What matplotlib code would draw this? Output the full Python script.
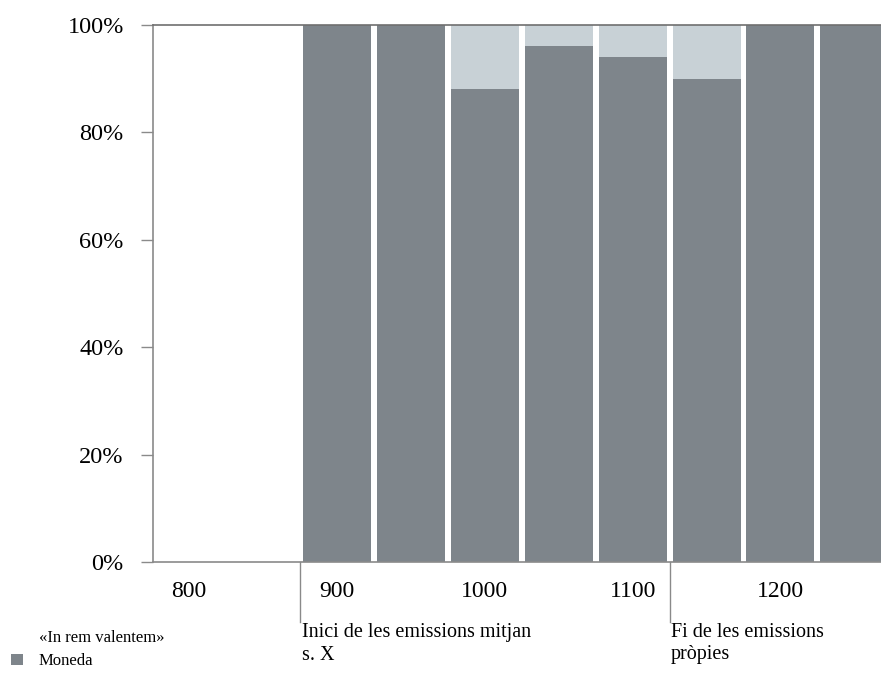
import matplotlib
matplotlib.use("Agg")
import matplotlib.pyplot as plt
import matplotlib.transforms as mtransforms

# ---- data ----
periods = [900, 950, 1000, 1050, 1100, 1150, 1200, 1250]
moneda = [100, 100, 88, 96, 94, 90, 100, 100]
in_rem = [0, 0, 12, 4, 6, 10, 0, 0]
tick_years = [800, 900, 1000, 1100, 1200]
tick_labels = ["800", "900", "1000", "1100", "1200"]
y_ticks = [0, 20, 40, 60, 80, 100]
markers = [875, 1125]
marker_texts = ["Inici de les emissions mitjan\ns. X", "Fi de les emissions\npròpies"]
series_names = ["«In rem valentem»", "Moneda"]

dark = "#7e858b"
light = "#c8d1d6"
axis_col = "#8a8a8a"

plt.rcParams['font.family'] = ['Liberation Serif', 'DejaVu Serif']

fig = plt.figure(figsize=(8.81, 6.77), dpi=100)
ax = fig.add_axes([153/881, 1-562/677, 1-153/881, (562-25)/677])

width = 46
b_dark = ax.bar(periods, moneda, width=width, color=dark, edgecolor='none')
b_light = ax.bar(periods, in_rem, width=width, bottom=moneda, color=light, edgecolor='none')

ax.set_xlim(775.5, 1268)
ax.set_ylim(0, 100)
ax.set_yticks(y_ticks)
ax.set_yticklabels([f"{v}%" for v in y_ticks], fontsize=17.5)
ax.set_xticks(tick_years)
ax.set_xticklabels(tick_labels, fontsize=17)
ax.tick_params(axis='x', length=0, pad=14)
ax.tick_params(axis='y', length=9, width=1, color=axis_col, pad=12)

for s in ['left', 'bottom', 'top']:
    ax.spines[s].set_color(axis_col)
    ax.spines[s].set_linewidth(1.2)
ax.spines['right'].set_visible(False)
ax.spines['top'].set_color('#6f6f6f')

trans = mtransforms.blended_transform_factory(ax.transData, ax.transAxes)
for xm, txt in zip(markers, marker_texts):
    ax.plot([xm, xm], [0, -(622-562)/537], transform=trans, color=axis_col,
            lw=1, clip_on=False)
    ax.text(xm + 1, -(623-562)/537, txt, transform=trans, ha='left', va='top',
            fontsize=14.5, linespacing=1.25)

leg = fig.legend([b_light, b_dark], series_names, loc='upper left',
                 bbox_to_anchor=(9/881, 1-628/677), frameon=False, fontsize=12,
                 handlelength=0.72, handleheight=0.6, handletextpad=0.96,
                 labelspacing=0.45, borderaxespad=0, borderpad=0.1)
leg.legend_handles[0].set_visible(False)

fig.savefig("out.png", dpi=100)
